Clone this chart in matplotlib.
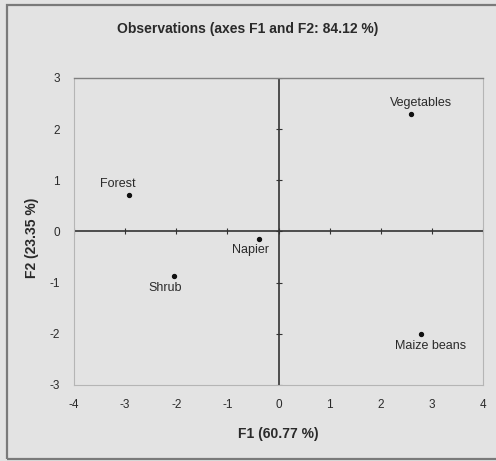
import numpy as np
import matplotlib
matplotlib.use('Agg')
import matplotlib.pyplot as plt
from matplotlib.patches import Rectangle

plt.rcParams['font.family'] = ['Liberation Sans', 'DejaVu Sans']
plt.rcParams['axes.unicode_minus'] = False

# observation scores on the first two factors
names = ['Forest', 'Napier', 'Shrub', 'Maize beans', 'Vegetables']
f1 = [-2.92, -0.39, -2.04, 2.78, 2.59]
f2 = [0.72, -0.14, -0.88, -2.01, 2.29]
# label offsets in pixels (dx, dy)
offsets = [(-11, 11), (-8, -11), (-9, -12), (10, -12), (10, 11)]

x_ticks = [-4, -3, -2, -1, 0, 1, 2, 3, 4]
y_ticks = [-3, -2, -1, 0, 1, 2, 3]

bg = '#e3e3e3'
ink = '#2a2a2a'
fig = plt.figure(figsize=(4.96, 4.61), dpi=100, facecolor=bg)
ax = fig.add_axes([0.149, 0.165, 0.825, 0.666], facecolor=bg)

# outer frame
fig.patches.append(Rectangle((0.014, 0.004), 1.2, 0.985, transform=fig.transFigure,
                             fill=False, edgecolor='#7a7a7a', linewidth=1.6))

ax.set_xlim(-4, 4)
ax.set_ylim(-3, 3)

# axes through origin with small ticks
ax.axhline(0, color='#333333', lw=1.2, zorder=2)
ax.axvline(0, color='#333333', lw=1.2, zorder=2)
ax.plot(x_ticks, [0] * len(x_ticks), ls='none', marker='|', ms=5, mew=0.8, color='#333333')
ax.plot([0] * len(y_ticks), y_ticks, ls='none', marker='_', ms=5, mew=0.8, color='#333333')

ax.scatter(f1, f2, s=8, color='#111111', zorder=3)
for n, x, y, (dx, dy) in zip(names, f1, f2, offsets):
    ax.annotate(n, (x, y), xytext=(dx, dy), textcoords='offset pixels',
                ha='center', va='center', fontsize=9, color=ink)

for side in ['left', 'right', 'bottom']:
    ax.spines[side].set_color('#b5b5b5')
    ax.spines[side].set_linewidth(0.8)
ax.spines['top'].set_color('#808080')
ax.spines['top'].set_linewidth(1.0)

ax.set_xticks(x_ticks)
ax.set_yticks(y_ticks)
ax.tick_params(length=0, labelsize=8.5, colors=ink, pad=10)

ax.set_xlabel('F1 (60.77 %)', fontsize=10, fontweight='bold', color=ink, labelpad=12)
ax.set_ylabel('F2 (23.35 %)', fontsize=10, fontweight='bold', color=ink, labelpad=6)
ax.yaxis.set_label_coords(-0.085, 0.48)
fig.text(0.5, 0.937, 'Observations (axes F1 and F2: 84.12 %)', ha='center', va='center',
         fontsize=10, fontweight='bold', color=ink)

fig.savefig('out.png', dpi=100, facecolor=bg)
